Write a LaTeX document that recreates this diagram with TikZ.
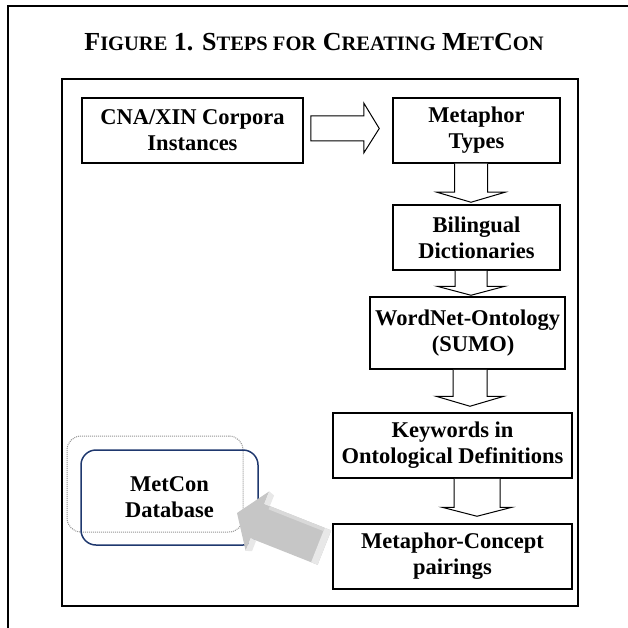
\documentclass[tikz,border=0pt]{standalone}
\usepackage{fontspec}
\setmainfont{Liberation Serif}
\usetikzlibrary{calc}
\newcommand\smc[1]{{\fontsize{20.5}{24}\selectfont #1}}
% #1 from node, #2 to node, #3 x offset, #4 shaft half width, #5 head half width, #6 head length, #7 gap before target
\newcommand\downblk[7]{%
  \draw[blk] let \p1=(#1.south), \p2=(#2.north) in
    (\x1+#3pt-#4pt,\y1) -- (\x1+#3pt-#4pt,\y2+#7pt+#6pt) -- (\x1+#3pt-#5pt,\y2+#7pt+#6pt)
    -- (\x1+#3pt,\y2+#7pt) -- (\x1+#3pt+#5pt,\y2+#7pt+#6pt) -- (\x1+#3pt+#4pt,\y2+#7pt+#6pt)
    -- (\x1+#3pt+#4pt,\y1);}
\begin{document}
\begin{tikzpicture}[x=1pt,y=-1pt,
  stepbox/.style={draw, line width=1.5pt, inner sep=0pt, align=center,
    font=\fontsize{22.5}{26}\selectfont\bfseries},
  blk/.style={draw, line width=1pt, fill=white, line join=miter}]
\useasboundingbox (0,0) rectangle (628,628);
% outer frame
\draw[line width=2pt] (8,628) -- (8,6) -- (628,6);
\node[font=\fontsize{26}{30}\selectfont\bfseries] (title) at (314,42)
  {F\smc{IGURE} 1. S\smc{TEPS FOR} C\smc{REATING} M\smc{ET}C\smc{ON}};
% inner frame
\draw[line width=1.5pt] (62,79) rectangle (578,606);
% step boxes
\node[stepbox, minimum width=221, minimum height=65] (cna) at (192.5,130.5) {CNA/XIN Corpora\\Instances};
\node[stepbox, minimum width=167, minimum height=65] (types) at (476.5,130.5) {Metaphor\\Types};
\node[stepbox, minimum width=167, minimum height=65] (bil) at (476.5,237.5) {Bilingual\\Dictionaries};
\node[stepbox, minimum width=195, minimum height=72] (wn) at (467.5,333) {WordNet-Ontology\\\ \ (SUMO)};
\node[stepbox, minimum width=239, minimum height=65] (kw) at (452.5,445.5) {Keywords in\\Ontological Definitions};
\node[stepbox, minimum width=239, minimum height=65] (mc) at (452.5,556.5) {Metaphor-Concept\\pairings};
% database
\node[draw=gray!85, dash pattern=on 1pt off 1pt, line width=1pt, rounded corners=14, minimum width=176, minimum height=96] (dbshadow) at (155,484) {};
\node[draw={rgb,255:red,31;green,56;blue,110}, line width=1.5pt, rounded corners=15, minimum width=177, minimum height=95,
  align=center, font=\fontsize{22.5}{26}\selectfont\bfseries] (db) at (169.5,497.5) {MetCon\\Database};
% block arrows
\draw[blk] ($(cna.east)+(7,-14.5)$) -- ($(cna.east)+(60,-14.5)$) -- ($(cna.east)+(60,-27.5)$)
  -- ($(types.west)+(-13,-2)$) -- ($(cna.east)+(60,22.5)$) -- ($(cna.east)+(60,10.5)$)
  -- ($(cna.east)+(7,10.5)$) -- cycle;
\downblk{types}{bil}{-5.5}{16.5}{34}{10}{2}
\downblk{bil}{wn}{-5.5}{16}{34}{9}{1}
\downblk{wn}{kw}{2.5}{17}{34}{10}{6}
\downblk{kw}{mc}{24.5}{23}{35}{9}{7}
% grey 3D arrow from mc to db
\begin{scope}[shift={(237,513)}, rotate=-21.6]
  \fill[gray!45] (0,0) -- (22,-32) -- (22,-18.5) -- (94,-18.5) -- (94,18.5) -- (22,18.5) -- (22,32) -- cycle;
  \fill[gray!18] (22,-32) -- (28,-30) -- (28,-18.5) -- (22,-18.5) -- cycle;
  \fill[gray!18] (22,32) -- (28,30) -- (28,18.5) -- (22,18.5) -- cycle;
  \fill[gray!18] (87,-18.5) -- (94,-18.5) -- (94,18.5) -- (87,18.5) -- cycle;
  \fill[gray!30] (28,-18.5) -- (87,-18.5) -- (87,-15) -- (28,-15) -- cycle;
\end{scope}
\end{tikzpicture}
\end{document}
